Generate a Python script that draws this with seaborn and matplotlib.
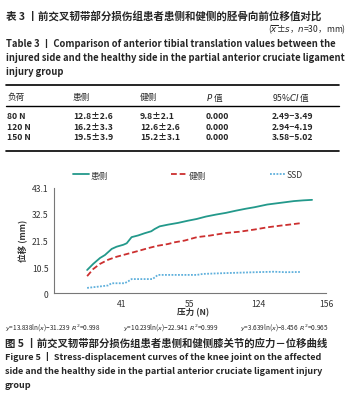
"""Stress-displacement curves, knee joint, partial ACL injury group (table + figure)."""

import matplotlib

matplotlib.use("Agg")
import matplotlib.pyplot as plt
import pandas as pd
import seaborn as sns
from matplotlib.lines import Line2D

W, H = 353, 406

# --- table 3 ---
TABLE_HEADER = ["负荷", "患侧", "健侧", r"$P$ 值", r"95%$CI$ 值"]
LOADS = ["80 N", "120 N", "150 N"]
INJURED = ["12.8±2.6", "16.2±3.3", "19.5±3.9"]
HEALTHY = ["9.8±2.1", "12.6±2.6", "15.2±3.1"]
P_VALUES = ["0.000", "0.000", "0.000"]
CI_VALUES = ["2.49−3.49", "2.94−4.19", "3.58−5.02"]

# --- figure 5 curves (x = sample index) ---
INJURED_X = [19, 22.5, 26.4, 29.2, 33.1, 35.9, 39.8, 41.7, 44.5, 48.3, 52, 55.8, 57.7,
             60.6, 65.4, 71.1, 76.8, 81.8, 87.2, 92.9, 98.6, 104.4, 110.1, 115, 122.3,
             130, 137.6, 143, 148]
INJURED_Y = [9.5, 12.0, 14.4, 15.6, 18.1, 19.0, 19.8, 20.4, 22.9, 23.6, 24.5, 25.3, 26.2,
             27.3, 28.0, 28.7, 29.6, 30.3, 31.3, 32.1, 32.8, 33.7, 34.5, 35.1, 36.2,
             36.9, 37.6, 37.9, 38.1]
HEALTHY_X = [19, 22.5, 26.4, 31.1, 35.9, 41.7, 48.5, 53.9, 59.6, 65.4, 69.2, 74.9, 82,
             89.1, 98.6, 106.3, 115, 122.3, 130, 136, 141.5]
HEALTHY_Y = [7.0, 9.9, 12.0, 13.7, 14.9, 16.0, 17.3, 18.4, 19.4, 20.1, 20.8, 21.5, 22.9,
             23.5, 24.6, 25.1, 26.0, 26.9, 27.6, 28.1, 28.6]
SSD_X = [19, 26.4, 31, 33, 40.5, 42.6, 44.5, 56.5, 59.6, 82, 85.3, 96.7, 115.4, 126.1,
         133, 141]
SSD_Y = [2.2, 2.8, 3.2, 4.1, 4.1, 4.9, 5.8, 5.8, 7.5, 7.5, 7.9, 8.2, 8.6, 8.8, 8.6, 8.7]

Y_TICKS = [0, 10.5, 21.5, 32.5, 43.1]
Y_TICK_LABELS = ["0", "10.5", "21.5", "32.5", "43.1"]
X_TICKS = [39, 78, 117, 156]
X_TICK_LABELS = ["41", "55", "124", "156"]
EQUATIONS = [
    r"$y$=13.838ln($x$)−31.239  $R^2$=0.998",
    r"$y$=10.239ln($x$)−22.941  $R^2$=0.999",
    r"$y$=3.639ln($x$)−8.456  $R^2$=0.965",
]

GREEN, RED, BLUE = "#23998b", "#cc2f2f", "#5fb0dc"
FONT = ["Noto Sans CJK SC", "DejaVu Sans"]


def fx(px):
    return px / W


def fy(py):
    return 1 - py / H


def put(fig, x, y, s, size, weight="normal", ha="left", **kw):
    fig.text(fx(x), fy(y), s, fontsize=size, fontweight=weight, ha=ha, va="center",
             family=FONT, **kw)


def draw_table(fig):
    put(fig, 6, 16, "表 3 丨前交叉韧带部分损伤组患者患侧和健侧的胫骨向前位移值对比", 7.6, "bold")
    put(fig, 346, 29, r"($\overline{x}$±$s$，$n$=30，mm)", 6.2, ha="right")
    put(fig, 6, 44, "Table 3 丨 Comparison of anterior tibial translation values between the",
        6.8, "bold")
    put(fig, 6, 58, "injured side and the healthy side in the partial anterior cruciate ligament",
        6.8, "bold")
    put(fig, 6, 72, "injury group", 6.8, "bold")

    for y, lw in [(86, 1.2), (107, 1.0), (152, 1.2)]:
        fig.add_artist(Line2D([fx(6), fx(339)], [fy(y), fy(y)], color="black", lw=lw))

    cols = [7, 73, 140, 206, 272]
    for x, s in zip(cols, TABLE_HEADER):
        put(fig, x, 97, s, 6.2)
    for row, y in enumerate([117, 128, 138]):
        cells = [LOADS[row], INJURED[row], HEALTHY[row], P_VALUES[row], CI_VALUES[row]]
        for x, s in zip(cols, cells):
            put(fig, x, y, s, 6.2, "bold")


def draw_chart(fig):
    ax = fig.add_axes([fx(54), fy(294.3), fx(326) - fx(54), fy(188.6) - fy(294.3)])
    series = [
        (INJURED_X, INJURED_Y, GREEN, "-", "患侧"),
        (HEALTHY_X, HEALTHY_Y, RED, (0, (3.2, 1.6)), "健侧"),
        (SSD_X, SSD_Y, BLUE, (0, (1, 0.8)), "SSD"),
    ]
    handles = []
    for xs, ys, color, ls, label in series:
        df = pd.DataFrame({"x": xs, "y": ys})
        sns.lineplot(data=df, x="x", y="y", ax=ax, color=color, linestyle=ls, lw=1.3,
                     estimator=None, sort=False)
        handles.append(Line2D([], [], color=color, linestyle=ls, lw=1.3, label=label))

    ax.set_xlim(0, 156)
    ax.set_ylim(0, 43.1)
    ax.set_yticks(Y_TICKS, Y_TICK_LABELS)
    ax.set_xticks(X_TICKS, X_TICK_LABELS)
    ax.set_xlabel("")
    ax.set_ylabel("")
    for side in ["top", "right"]:
        ax.spines[side].set_visible(False)
    for side in ["left", "bottom"]:
        ax.spines[side].set_color("#777777")
        ax.spines[side].set_linewidth(0.8)
    ax.tick_params(length=2, width=0.6, color="#777777", labelsize=6.2, labelcolor="#333333",
                   pad=2)
    for lab in ax.get_xticklabels() + ax.get_yticklabels():
        lab.set_family(FONT)

    leg = fig.legend(handles=handles, loc="center", bbox_to_anchor=(fx(188), fy(176)), ncol=3,
                     frameon=False, handlelength=1.8, handletextpad=0.2, columnspacing=7.4,
                     prop={"family": FONT, "size": 6.2})
    for t in leg.get_texts():
        t.set_color("#333333")

    put(fig, 24, 241, "位移 (mm)", 6.2, "bold", ha="center", rotation=90, color="#333333")
    put(fig, 193, 313, "压力 (N)", 6.2, "bold", ha="center", color="#333333")

    for x, s in zip([5, 123, 240], EQUATIONS):
        put(fig, x, 328, s, 4.6)

    put(fig, 5, 343, "图 5 丨前交叉韧带部分损伤组患者患侧和健侧膝关节的应力－位移曲线", 7.5, "bold")
    put(fig, 5, 357, "Figure 5 丨 Stress-displacement curves of the knee joint on the affected",
        6.5, "bold")
    put(fig, 5, 372, "side and the healthy side in the partial anterior cruciate ligament injury",
        6.5, "bold")
    put(fig, 5, 386, "group", 6.5, "bold")


def main():
    sns.set_theme(style="white")
    plt.rcParams["font.family"] = FONT
    plt.rcParams["mathtext.fontset"] = "dejavusans"
    fig = plt.figure(figsize=(W / 100, H / 100), dpi=100)
    draw_table(fig)
    draw_chart(fig)
    fig.savefig("out.png", dpi=100)


if __name__ == "__main__":
    main()
